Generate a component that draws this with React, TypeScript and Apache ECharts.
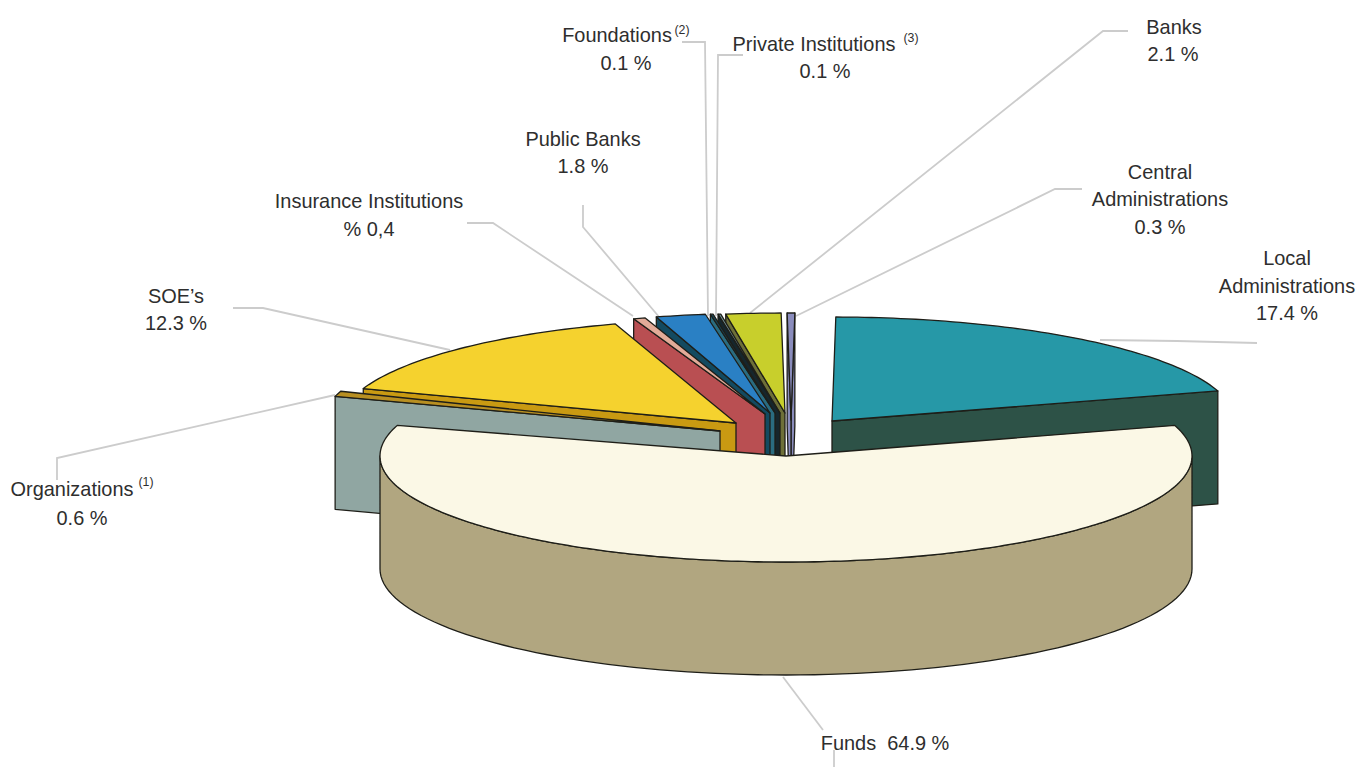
import React, { useEffect, useRef } from "react";
import * as echarts from "echarts";

// Categories in the order they run round the pie, starting with Funds
const categories = ["Funds", "Organizations", "SOE’s", "Insurance Institutions", "Public Banks", "Foundations", "Private Institutions", "Banks", "Central Administrations", "Local Administrations"];
const shares = [64.9, 0.6, 12.3, 0.4, 1.8, 0.1, 0.1, 2.1, 0.3, 17.4];

// Back-to-front painting order
const paintOrder = ["Central Administrations", "Banks", "Private Institutions", "Foundations", "Public Banks", "Insurance Institutions", "SOE’s", "Organizations", "Local Administrations", "Funds"];

// Text labels: [text, centre x, centre y]
const labelTexts: [string, number, number][] = [
  ["Foundations", 617, 34], ["0.1 %", 626, 62],
  ["Private Institutions", 814, 43], ["0.1 %", 825, 70],
  ["Banks", 1174, 26], ["2.1 %", 1173, 53],
  ["Central", 1160, 171], ["Administrations", 1160, 198], ["0.3 %", 1160, 226],
  ["Local", 1287, 257], ["Administrations", 1287, 285], ["17.4 %", 1287, 312],
  ["Public Banks", 583, 138], ["1.8 %", 583, 165],
  ["Insurance Institutions", 369, 200], ["% 0,4", 369, 228],
  ["SOE’s", 176, 295], ["12.3 %", 176, 322],
  ["Organizations", 72, 488], ["0.6 %", 82, 517],
  ["Funds  64.9 %", 885, 742],
];
const superscripts: [string, number, number][] = [
  ["(1)", 146, 482], ["(2)", 682, 30], ["(3)", 911, 38],
];
const leaders: number[][][] = [
  [[57, 480], [57, 458], [335, 395]],
  [[233, 308], [263, 308], [450, 350]],
  [[467, 223], [493, 223], [633, 316]],
  [[583, 205], [583, 227], [660, 318]],
  [[682, 42], [705, 42], [708, 316]],
  [[743, 55], [718, 55], [716, 316]],
  [[1128, 31], [1103, 31], [750, 313]],
  [[1082, 189], [1055, 189], [796, 316]],
  [[1257, 343], [1177, 341], [1100, 340]],
  [[783, 677], [823, 730]],
  [[834, 750], [834, 767]],
];

type Geo = { cx: number; cy: number; rx: number; ry: number; top: string; side: string; face: string };
const sliceGeometry: Record<string, Geo> = {
  "Funds": { cx: 786, cy: 456, rx: 406, ry: 106, top: "#fbf8e6", side: "#b1a680", face: "rim" },
  "Organizations": { cx: 720, cy: 431, rx: 402, ry: 120, top: "#b88f22", side: "#90a6a2", face: "start" },
  "SOE’s": { cx: 736, cy: 423, rx: 395, ry: 104, top: "#f5d22e", side: "#c99a12", face: "start" },
  "Insurance Institutions": { cx: 765, cy: 414, rx: 430, ry: 100, top: "#e2ab98", side: "#b94f52", face: "start" },
  "Public Banks": { cx: 770, cy: 413, rx: 408, ry: 100, top: "#2a80c4", side: "#134a60", face: "start" },
  "Foundations": { cx: 775, cy: 413, rx: 408, ry: 100, top: "#16465a", side: "#2a6c80", face: "start" },
  "Private Institutions": { cx: 780, cy: 413, rx: 408, ry: 100, top: "#7a9aa0", side: "#16262c", face: "start" },
  "Banks": { cx: 785, cy: 413, rx: 408, ry: 100, top: "#c8cf2c", side: "#6e7038", face: "start" },
  "Central Administrations": { cx: 791, cy: 420, rx: 408, ry: 107, top: "#8a8cbc", side: "#8a8cbc", face: "both" },
  "Local Administrations": { cx: 832, cy: 421, rx: 403, ry: 104, top: "#2698a7", side: "#2d5247", face: "end" },
};
const DEPTH = 113;
const EDGE = "#1e1e18";
const WARP = 12.6; // perspective of the tilted disc, in degrees

const rad = (d: number) => (d * Math.PI) / 180;
// Angle round the disc (0 = nearest the viewer) to the angle on the drawn ellipse
const warp = (phi: number) => {
  const w = ((phi + 540) % 360) - 180;
  return w - WARP * Math.sin(rad(w)) ** 2 * (w < 0 ? -1 : 1);
};
const onRim = (g: Geo, a: number) => [g.cx + g.rx * Math.sin(rad(a)), g.cy + g.ry * Math.cos(rad(a))];

// Extent of each slice, walking left from the front of Funds
const total = shares.reduce((s, v) => s + v, 0);
const spans: Record<string, [number, number]> = {};
{
  const half = (shares[0] / total) * 180;
  spans[categories[0]] = [-half, half];
  let at = -half;
  categories.slice(1).forEach((c, i) => {
    const next = at - (shares[i + 1] / total) * 360;
    spans[c] = [at, next];
    at = next;
  });
}

const renderSlice = (params: any, api: any) => {
  const name = paintOrder[params.dataIndex];
  const g = sliceGeometry[name];
  const [a, b] = spans[name];
  const stepCount = Math.max(2, Math.ceil(Math.abs(b - a)));
  const arc: number[][] = [];
  for (let i = 0; i <= stepCount; i++) arc.push(onRim(g, warp(a + ((b - a) * i) / stepCount)));
  const apex = [g.cx, g.cy];
  const lower = (p: number[]) => [p[0], p[1] + DEPTH];
  const children: any[] = [];
  const poly = (points: number[][], fill: string) => ({
    type: "polygon",
    shape: { points },
    style: { fill, stroke: EDGE, lineWidth: 1.3, lineJoin: "round" },
  });
  const cutFace = (rim: number[], fill: string) => poly([rim, apex, lower(apex), lower(rim)], fill);
  if (g.face === "rim") {
    const wallTop: number[][] = [];
    for (let t = -90; t <= 90; t += 2) wallTop.push(onRim(g, t));
    children.push(poly([...wallTop, ...wallTop.slice().reverse().map(lower)], g.side));
  } else {
    if (g.face === "end" || g.face === "both") children.push(cutFace(arc[arc.length - 1], g.side));
    if (g.face === "start" || g.face === "both") children.push(cutFace(arc[0], g.side));
  }
  children.push(poly([apex, ...arc], g.top));
  return { type: "group", children };
};

const textStyle = { fill: "#2e2e2e", fontFamily: '"Liberation Sans", Arial, sans-serif', align: "center", verticalAlign: "middle" };

export default function App() {
  const ref = useRef<HTMLDivElement>(null);
  useEffect(() => {
    document.body.style.margin = "0";
    const chart = echarts.init(ref.current!, undefined, { renderer: "svg" });
    const shareOf = (n: string) => shares[categories.indexOf(n)];
    chart.setOption({
      animation: false,
      backgroundColor: "#ffffff",
      series: [
        {
          type: "custom",
          coordinateSystem: "none",
          renderItem: renderSlice,
          silent: true,
          data: paintOrder.map((n) => ({ name: n, value: shareOf(n) })),
        },
      ],
      graphic: [
        ...leaders.map((points) => ({
          type: "polyline",
          z: 0,
          shape: { points },
          style: { fill: "none", stroke: "#cccccc", lineWidth: 1.8 },
        })),
        ...labelTexts.map(([text, x, y]) => ({
          type: "text",
          z: 10,
          x,
          y,
          scaleX: 0.95,
          style: { ...textStyle, text, fontSize: 21 },
        })),
        ...superscripts.map(([text, x, y]) => ({
          type: "text",
          z: 10,
          x,
          y,
          scaleX: 0.95,
          style: { ...textStyle, text, fontSize: 13 },
        })),
      ],
    });
    return () => chart.dispose();
  }, []);
  return <div ref={ref} style={{ position: "absolute", left: 0, top: 0, width: 1360, height: 767 }} />;
}
